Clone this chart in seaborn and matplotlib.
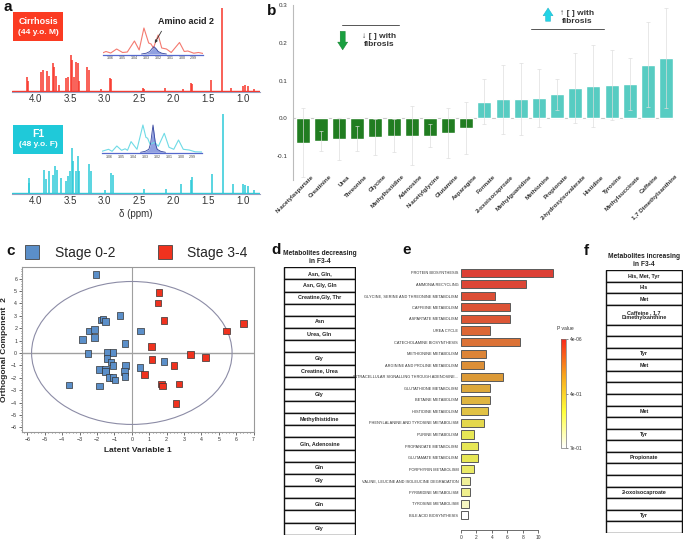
import matplotlib
matplotlib.use("Agg")
import pandas as pd
import matplotlib.pyplot as plt
import seaborn as sns
from matplotlib.patches import Ellipse, Rectangle
from matplotlib.lines import Line2D
from matplotlib.colors import LinearSegmentedColormap, Normalize
from matplotlib.cm import ScalarMappable
import matplotlib.transforms as mtransforms

# ---------------- panel a: 1H NMR peaks (ppm, height) ----------------
cirr_ppm = [4.12, 4.11, 3.92, 3.89, 3.83, 3.81, 3.75, 3.73, 3.70, 3.66, 3.56, 3.53,
            3.49, 3.47, 3.44, 3.41, 3.39, 3.37, 3.25, 3.23, 3.05, 2.92, 2.90, 2.45,
            2.43, 2.12, 1.87, 1.75, 1.73, 1.46, 1.30, 1.17, 0.99, 0.96, 0.93, 0.83]
cirr_height = [14, 10, 19, 21, 20, 15, 28, 24, 15, 6, 13, 14,
               36, 31, 14, 29, 28, 10, 24, 21, 2, 13, 12, 3,
               2, 3, 2, 8, 7, 11, 83, 3, 5, 6, 5, 2]
f1_ppm = [4.10, 4.09, 3.88, 3.85, 3.81, 3.75, 3.72, 3.69, 3.63, 3.56, 3.53, 3.50,
          3.47, 3.45, 3.41, 3.39, 3.37, 3.22, 3.20, 3.00, 2.90, 2.88, 2.43, 2.11,
          1.89, 1.75, 1.73, 1.45, 1.29, 1.14, 1.00, 0.96, 0.92, 0.84]
f1_height = [15, 10, 23, 14, 22, 18, 27, 23, 15, 12, 17, 22,
             45, 32, 22, 37, 22, 29, 22, 3, 20, 18, 4, 4,
             9, 13, 16, 19, 79, 9, 9, 8, 7, 3]

# inset traces (ppm, height)
inset_ppm_red = [3.068, 3.064, 3.060, 3.055, 3.050, 3.046, 3.040, 3.036, 3.032, 3.028,
                 3.026, 3.024, 3.020, 3.017, 3.013, 3.009, 3.002, 2.998, 2.995, 2.990,
                 2.986, 2.982]
inset_h_red = [0.5, 2.5, 1.0, 5.0, 1.5, 2.0, 13.0, 4.0, 26.0, 11.0,
               10.0, 6.0, 19.0, 6.0, 5.0, 1.5, 11.5, 2.5, 3.0, 0.8,
               1.5, 0.5]
inset_ppm_cyan = [3.068, 3.061, 3.058, 3.054, 3.050, 3.047, 3.045, 3.042, 3.037, 3.032,
                  3.0295, 3.028, 3.026, 3.024, 3.022, 3.019, 3.014, 3.010, 3.006, 3.002,
                  2.998, 2.993, 2.988, 2.982]
inset_h_cyan = [0.5, 3.0, 1.0, 6.3, 2.0, 3.5, 2.0, 10.7, 3.0, 27.3,
                15.0, 14.0, 8.0, 9.0, 10.0, 6.0, 19.0, 5.0, 3.0, 12.3,
                3.0, 2.3, 0.5, 0.3]
aa2_ppm = [3.034, 3.030, 3.027, 3.0255, 3.0235, 3.0215, 3.020, 3.017, 3.013]
aa2_h_cirr = [0.0, 0.8, 2.5, 5.0, 7.3, 5.0, 2.5, 0.8, 0.0]
aa2_h_f1 = [0.0, 1.0, 3.0, 9.0, 27.3, 9.0, 3.0, 1.0, 0.0]
inset_ticks = [3.06, 3.05, 3.04, 3.03, 3.02, 3.01, 3.00, 2.99]

# ---------------- panel b: metabolite coefficients ----------------
metab_names = ["N-acetylaspartate", "Creatinine", "Urea", "Threonine", "Glycine",
               "Methylhistidine", "Adenosine", "N-acetylglycine", "Glutamine", "Asparagine",
               "Formate", "2-oxoisocaproate", "Methylguanidine", "Methionine", "Propionate",
               "2-hydroxyisovalerate", "Histidine", "Tyrosine", "Methylsuccinate", "Caffeine",
               "1,7 Dimethylxanthine"]
metab_coef = [-0.065, -0.060, -0.055, -0.054, -0.049, -0.046, -0.046, -0.046, -0.039, -0.026,
              0.044, 0.050, 0.051, 0.054, 0.063, 0.080, 0.085, 0.089, 0.092, 0.142, 0.160]
metab_err = [0.092, 0.027, 0.056, 0.033, 0.048, 0.043, 0.078, 0.031, 0.066, 0.068,
             0.060, 0.092, 0.095, 0.076, 0.041, 0.093, 0.109, 0.093, 0.069, 0.113, 0.132]
metab_dir = ["down"] * 10 + ["up"] * 11

# ---------------- panel c: OPLS-DA scores ----------------
stage02_x = [-2.07, -0.67, -1.73, -1.65, -1.52, -2.46, -2.15, -2.15, -2.84, -0.40,
             0.50, -2.53, -1.42, -1.07, -1.42, -1.19, -1.07, -0.35, -1.86, -1.50,
             -1.50, -0.42, -0.38, -1.31, -1.07, -0.96, -3.61, -1.86, 0.46, 1.84]
stage02_y = [6.35, 3.03, 2.68, 2.76, 2.54, 1.77, 1.88, 1.23, 1.10, 0.75,
             1.77, -0.05, 0.03, 0.03, -0.46, -0.72, -1.02, -1.02, -1.34, -1.34,
             -1.50, -1.50, -1.90, -1.98, -1.98, -2.17, -2.60, -2.65, -1.18, -0.67]
stage34_x = [1.57, 1.50, 1.86, 6.43, 5.43, 1.13, 1.17, 3.38, 4.24, 2.42,
             0.73, 1.71, 1.75, 2.71, 2.53]
stage34_y = [4.88, 4.04, 2.63, 2.38, 1.79, 0.51, -0.54, -0.13, -0.35, -1.02,
             -1.74, -2.52, -2.65, -2.52, -4.07]
ellipse_rx, ellipse_ry = 5.76, 5.77

# ---------------- panel d / f: metabolite tables ----------------
decreasing_rows = ["Asn, Gln,", "Asn, Gly, Gln", "Creatine,Gly, Thr", "", "Asn", "Urea, Gln",
                   "", "Gly", "Creatine, Urea", "", "Gly", "", "Methylhistidine", "",
                   "Gln, Adenosine", "", "Gln", "Gly", "", "Gln", "", "Gly"]
increasing_rows = ["His, Met, Tyr", "His", "Met", "Caffeine , 1,7\nDimethylxanthine", "", "",
                   "Tyr", "Met", "", "", "", "Met", "", "Tyr", "", "Propionate", "", "",
                   "2-oxoisocaproate", "", "Tyr", ""]

# ---------------- panel e: pathway enrichment ----------------
pathway_names = ["PROTEIN BIOSYNTHESIS", "AMMONIA RECYCLING",
                 "GLYCINE, SERINE AND THREONINE METABOLISM", "CAFFEINE METABOLISM",
                 "ASPARTATE METABOLISM", "UREA CYCLE", "CATECHOLAMINE BIOSYNTHESIS",
                 "METHIONINE METABOLISM", "ARGININE AND PROLINE METABOLISM",
                 "INTRACELLULAR SIGNALLING THROUGH ADENOSINE...", "GLUTATHIONE METABOLISM",
                 "BETAINE METABOLISM", "HISTIDINE METABOLISM",
                 "PHENYLALANINE AND TYROSINE METABOLISM", "PURINE METABOLISM",
                 "PROPANOATE METABOLISM", "GLUTAMATE METABOLISM", "PORPHYRIN METABOLISM",
                 "VALINE, LEUCINE AND ISOLEUCINE DEGRADATION", "PYRIMIDINE METABOLISM",
                 "TYROSINE METABOLISM", "BILE ACID BIOSYNTHESIS"]
pathway_fold = [11.85, 8.36, 4.44, 6.29, 6.29, 3.79, 7.59, 3.19, 2.93, 5.39, 3.79,
                3.79, 3.49, 2.93, 1.64, 2.16, 2.16, 1.72, 1.12, 1.12, 1.08, 0.86]
pathway_level = [1.0, 0.98, 0.95, 0.93, 0.92, 0.86, 0.82, 0.76, 0.72, 0.68, 0.62,
                 0.56, 0.50, 0.40, 0.33, 0.33, 0.33, 0.30, 0.20, 0.22, 0.12, 0.0]
pvalue_ticks = ["7e-01", "4e-01", "4e-06"]

RED = "#f8362a"
CYAN = "#2ccad8"
W, H = 685, 544


def fx(px):
    return px / W


def fy(py):
    return 1 - py / H


sns.set_theme(style="white")
plt.rcParams['font.family'] = ['Liberation Sans', 'DejaVu Sans']

fig = plt.figure(figsize=(6.85, 5.44), dpi=100)

# ======================= panel a =======================
def draw_spectrum(ax, ppm, height, color, ylim):
    ax.vlines(ppm, 0, height, color=color, lw=1.1)
    ax.axhline(0, color=color, lw=1.0)
    ax.set_xlim(4.34, 0.75)
    ax.set_ylim(*ylim)
    ax.set_yticks([])
    ax.set_xticks([4.0, 3.5, 3.0, 2.5, 2.0, 1.5, 1.0])
    ax.set_xticklabels(["4.0", "3.5", "3.0", "2.5", "2.0", "1.5", "1.0"])
    ax.tick_params(axis="x", length=0, pad=1.5, labelsize=7, colors="#333333")
    for s in ["top", "right", "left"]:
        ax.spines[s].set_visible(False)
    ax.spines["bottom"].set_color("#9aa0c0")
    ax.spines["bottom"].set_linewidth(0.8)
    ax.patch.set_alpha(0)


ax_a1 = fig.add_axes([fx(12), fy(92), fx(248), 87 / H])
draw_spectrum(ax_a1, cirr_ppm, cirr_height, RED, (-1.5, 85.5))
ax_a2 = fig.add_axes([fx(12), fy(194), fx(248), 84 / H])
draw_spectrum(ax_a2, f1_ppm, f1_height, CYAN, (-1.3, 82.7))
ax_a2.set_xlabel("δ (ppm)", fontsize=7, labelpad=2, color="#333333")


def draw_inset(ax, ppm, h, color, aa_h):
    sns.lineplot(x=ppm, y=h, sort=False, color=color, lw=0.8, ax=ax)
    ax.fill_between(aa2_ppm, 0, aa_h, color="#6d82d8", alpha=0.75, lw=0)
    ax.plot(aa2_ppm, aa_h, color="#34449e", lw=0.6)
    ax.set_xlim(3.0665, 2.9822)
    ax.set_ylim(-1, 32)
    ax.set_yticks([])
    ax.set_xticks(inset_ticks)
    ax.set_xticklabels([f"{t:.2f}" for t in inset_ticks])
    ax.tick_params(axis="x", length=0, pad=1, labelsize=2.6, colors="#444444")
    for s in ["top", "right", "left"]:
        ax.spines[s].set_visible(False)
    ax.spines["bottom"].set_color("#5568cc")
    ax.spines["bottom"].set_linewidth(0.9)
    ax.patch.set_alpha(0)


ax_in1 = fig.add_axes([fx(103), fy(55), fx(100), 33 / H])
draw_inset(ax_in1, inset_ppm_red, inset_h_red, "#f47a70", aa2_h_cirr)
ax_in2 = fig.add_axes([fx(102), fy(153.3), fx(100), 33 / H])
draw_inset(ax_in2, inset_ppm_cyan, inset_h_cyan, "#6fdbe6", aa2_h_f1)

ax_in1.annotate("Amino acid 2", xy=(3.0240, 8.5), xycoords="data",
                xytext=(fx(186), fy(21)), textcoords="figure fraction",
                ha="center", va="center", fontsize=6.5, fontweight="bold", color="#222222",
                arrowprops=dict(arrowstyle="-|>", color="#333333", lw=0.6,
                                mutation_scale=4, relpos=(0.12, 0.0)))

for (x0, y0, color, big, small) in [(13, 12, "#fb3b22", "Cirrhosis", "(44 y.o. M)"),
                                    (13, 125, "#1fc9d9", "F1", "(48 y.o. F)")]:
    fig.patches.append(Rectangle((fx(x0), fy(y0 + 29)), fx(50), 29 / H,
                                 transform=fig.transFigure, facecolor=color,
                                 edgecolor="none", zorder=5))
    fig.text(fx(x0 + 25), fy(y0 + 9), big, ha="center", va="center", color="white",
             fontsize=7.5 if big == "F1" else 6.5, fontweight="bold", zorder=6)
    fig.text(fx(x0 + 25), fy(y0 + 20), small, ha="center", va="center", color="white",
             fontsize=6, fontweight="bold", zorder=6)

# ======================= panel b =======================
ax_b = fig.add_axes([fx(293), fy(180), fx(381), 175 / H])
df_b = pd.DataFrame({"metabolite": metab_names, "coef": metab_coef, "dir": metab_dir})
sns.barplot(data=df_b, x="metabolite", y="coef", hue="dir", order=metab_names,
            palette={"down": "#128c12", "up": "#43e0d2"}, width=0.77,
            legend=False, errorbar=None, ax=ax_b)
ax_b.errorbar(range(len(metab_names)), metab_coef, yerr=metab_err, fmt="none",
              ecolor="#dedede", elinewidth=0.6, capsize=1.6, capthick=0.6, alpha=0.8)
ax_b.axhline(0, color="#c8c8c8", lw=0.8, zorder=0)
ax_b.set_xlim(-0.534, 20.43)
ax_b.set_ylim(-0.164, 0.3005)
ax_b.set_yticks([-0.1, 0.0, 0.1, 0.2, 0.3])
ax_b.set_yticklabels(["-0.1", "0.0", "0.1", "0.2", "0.3"])
ax_b.set_xlabel("")
ax_b.set_ylabel("")
ax_b.tick_params(axis="y", length=0, pad=4, labelsize=4.5, colors="#333333")
ax_b.tick_params(axis="x", length=0, pad=0, labelsize=4.4, colors="#333333")
offset = mtransforms.ScaledTranslation(10 / 100, 4 / 100, fig.dpi_scale_trans)
for lab in ax_b.get_xticklabels():
    lab.set_rotation(45)
    lab.set_ha("right")
    lab.set_va("center")
    lab.set_rotation_mode("anchor")
    lab.set_fontweight("bold")
    lab.set_transform(lab.get_transform() + offset)
for s in ["top", "right", "bottom"]:
    ax_b.spines[s].set_visible(False)
ax_b.spines["left"].set_color("#bbbbbb")
ax_b.spines["left"].set_linewidth(0.8)

ax_b.annotate("", xy=(2.2, 0.174), xytext=(2.2, 0.238),
              arrowprops=dict(arrowstyle="simple,head_width=0.9,head_length=0.7,tail_width=0.45",
                              fc="#1aa040", ec="#0b7a25", lw=0.3, mutation_scale=8))
ax_b.text(4.2, 0.205, "↓ [ ] with\nfibrosis", ha="center", va="center", fontsize=6,
          fontweight="bold", color="#333333")
ax_b.plot([2.15, 5.3], [0.248, 0.248], color="#555555", lw=0.7)
ax_b.annotate("", xy=(13.5, 0.300), xytext=(13.5, 0.250),
              arrowprops=dict(arrowstyle="simple,head_width=0.9,head_length=0.7,tail_width=0.45",
                              fc="#22d4e6", ec="#12a8c0", lw=0.3, mutation_scale=8),
              annotation_clip=False)
ax_b.text(15.1, 0.267, "↑ [ ] with\nfibrosis", ha="center", va="center", fontsize=6,
          fontweight="bold", color="#333333")
ax_b.plot([12.56, 16.6], [0.238, 0.238], color="#555555", lw=0.7)

# ======================= panel c =======================
ax_c = fig.add_axes([fx(22), fy(432), fx(232), 165 / H])
df_c = pd.DataFrame({
    "lv1": stage02_x + stage34_x,
    "oc2": stage02_y + stage34_y,
    "stage": ["Stage 0-2"] * len(stage02_x) + ["Stage 3-4"] * len(stage34_x),
})
pal_c = {"Stage 0-2": "#5b8fc9", "Stage 3-4": "#f0321e"}
ax_c.axhline(0, color="#a0a0a0", lw=1.0, zorder=0)
ax_c.axvline(0, color="#a0a0a0", lw=0.8, zorder=0)
ax_c.add_patch(Ellipse((0, 0), 2 * ellipse_rx, 2 * ellipse_ry, fill=False,
                       ec="#8c8ca6", lw=0.8, zorder=1))
sns.scatterplot(data=df_c, x="lv1", y="oc2", hue="stage", palette=pal_c, marker="s",
                s=22, edgecolor="#333333", linewidth=0.5, legend=False, ax=ax_c, zorder=3)
ax_c.set_xlim(-6.31, 7.02)
ax_c.set_ylim(-6.38, 6.94)
ax_c.set_xticks(range(-6, 8))
ax_c.set_yticks(range(-6, 7))
ax_c.minorticks_on()
ax_c.tick_params(which="major", direction="out", length=2, width=0.5, labelsize=3.8,
                 pad=1.5, colors="#333333", bottom=True, left=True)
ax_c.tick_params(which="minor", direction="out", length=1, width=0.4,
                 bottom=True, left=True)
ax_c.set_xlabel("Latent Variable 1", fontsize=6, fontweight="bold", labelpad=4)
ax_c.set_ylabel("Orthogonal Component  2", fontsize=6, fontweight="bold")
ax_c.yaxis.set_label_coords(-14 / 232, 0.5)
for s in ax_c.spines.values():
    s.set_color("#999999")
    s.set_linewidth(0.8)

handles_c = [Line2D([], [], marker="s", ls="", markersize=10, markerfacecolor=pal_c[k],
                    markeredgecolor="#444444", markeredgewidth=0.6) for k in pal_c]
fig.legend(handles_c, list(pal_c), loc="center", bbox_to_anchor=(fx(133), fy(253)),
           ncol=2, frameon=False, fontsize=10, handletextpad=0.6, columnspacing=2.6,
           borderaxespad=0)

# ======================= panels d & f =======================
def draw_table(ax, rows, title, spans):
    tops = [sum(spans[:i]) for i in range(len(rows))]
    total = sum(spans)
    ax.barh([t + s / 2 for t, s in zip(tops, spans)], [1] * len(rows), height=spans,
            left=0, color="white", edgecolor="#111111", linewidth=1.0)
    for t, s, txt in zip(tops, spans, rows):
        ax.text(0.5, t + s / 2, txt, ha="center", va="center", fontsize=3.9,
                fontweight="bold", color="#222222", linespacing=1.0)
    ax.set_xlim(-0.01, 1.01)
    ax.set_ylim(total + 0.02, -0.02)
    ax.axis("off")
    ax.text(0.5, 1.006, title, transform=ax.transAxes, ha="center", va="bottom",
            fontsize=4.8, fontweight="bold", color="#222222", linespacing=1.3)


ax_d = fig.add_axes([fx(283), fy(535), fx(73), 268 / H])
draw_table(ax_d, decreasing_rows, "Metabolites decreasing\nin F3-4",
           [1] * len(decreasing_rows))
ax_f = fig.add_axes([fx(605), fy(533), fx(78), 263 / H])
f_spans = [1] * len(increasing_rows)
f_spans[3] = 1.7
draw_table(ax_f, increasing_rows, "Metabolites increasing\nin F3-4", f_spans)

# ======================= panel e =======================
cmap_p = LinearSegmentedColormap.from_list(
    "pval", ["#ffffff", "#ffff3a", "#f7a51c", "#f8281a"])
ax_e = fig.add_axes([fx(461), fy(530), fx(95), 264 / H])
df_e = pd.DataFrame({"pathway": pathway_names, "fold": pathway_fold})
sns.barplot(data=df_e, x="fold", y="pathway", hue="pathway", order=pathway_names,
            palette=[cmap_p(v) for v in pathway_level], legend=False, orient="h",
            width=0.7, edgecolor="#5a5a5a", linewidth=0.7, errorbar=None, ax=ax_e)
ax_e.set_ylim(22.26, -0.58)
ax_e.set_xlim(0, 12.3)
ax_e.set_xticks([0, 2, 4, 6, 8, 10])
ax_e.set_xlabel("")
ax_e.set_ylabel("")
ax_e.tick_params(axis="y", length=0, pad=2, labelsize=2.8, colors="#333333")
ax_e.tick_params(axis="x", direction="out", length=2, width=0.5, pad=1.5,
                 labelsize=3.5, colors="#333333", bottom=True)
for s in ["top", "right", "left"]:
    ax_e.spines[s].set_visible(False)
ax_e.spines["bottom"].set_bounds(0, 10)
ax_e.spines["bottom"].set_color("#555555")
ax_e.spines["bottom"].set_linewidth(0.6)

cax = fig.add_axes([fx(561), fy(448), fx(5), 109 / H])
cb = fig.colorbar(ScalarMappable(norm=Normalize(0, 1), cmap=cmap_p), cax=cax,
                  ticks=[0, 0.5, 1])
cb.set_ticklabels(pvalue_ticks)
cb.ax.tick_params(labelsize=3.5, length=1.5, width=0.4, pad=1.5, colors="#333333")
cb.outline.set_edgecolor("#777777")
cb.outline.set_linewidth(0.5)
fig.text(fx(557), fy(329), "P value", fontsize=3.6, color="#333333", ha="left", va="center")

# ======================= panel letters =======================
for letter, px, py in [("a", 3, 7), ("b", 267, 11), ("c", 6, 251), ("d", 271, 250),
                       ("e", 402, 250), ("f", 584, 251)]:
    fig.text(fx(px), fy(py), letter, fontsize=11, fontweight="bold", ha="left",
             va="center", color="#111111")

fig.savefig("out.png", dpi=100)
